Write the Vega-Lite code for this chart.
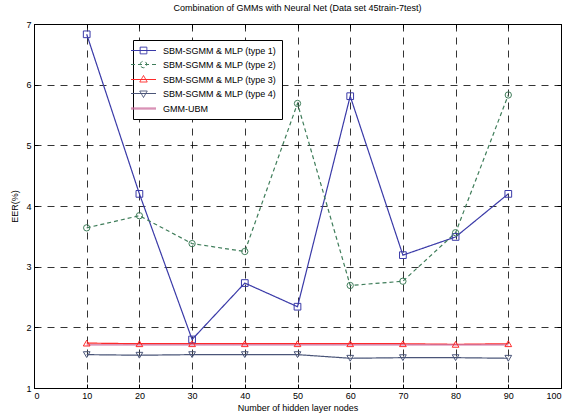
{
  "$schema": "https://vega.github.io/schema/vega-lite/v6.json",
  "width": 527,
  "height": 364,
  "autosize": {"type": "none"},
  "padding": {"left": 34, "top": 24, "right": 2, "bottom": 27},
  "background": "white",
  "title": {
    "text": "Combination of GMMs with Neural Net (Data set 45train-7test)",
    "font": "Liberation Sans",
    "fontSize": 9,
    "fontWeight": "normal",
    "color": "black",
    "anchor": "middle",
    "offset": 7
  },
  "config": {
    "view": {"stroke": "black", "strokeWidth": 1},
    "axis": {
      "labelFont": "Liberation Sans",
      "labelFontSize": 9,
      "labelColor": "black",
      "titleFont": "Liberation Sans",
      "titleFontSize": 9,
      "titleFontWeight": "normal",
      "titleColor": "black",
      "domainColor": "black",
      "tickColor": "black",
      "gridColor": "black",
      "gridDash": [7, 6],
      "gridOpacity": 1,
      "gridWidth": 0.8,
      "tickSize": -4,
      "labelPadding": 7
    },
    "legend": {
      "orient": "none",
      "legendX": 99,
      "legendY": 16,
      "strokeColor": "black",
      "fillColor": "white",
      "padding": 5,
      "labelFont": "Liberation Sans",
      "labelFontSize": 9,
      "labelColor": "black",
      "labelOffset": 14,
      "symbolSize": 100,
      "symbolStrokeWidth": 1,
      "symbolOpacity": 1,
      "rowPadding": 3,
      "title": null
    }
  },
  "data": {
    "values": [
      {"nodes": 10, "series": "SBM-SGMM & MLP (type 1)", "eer": 6.83},
      {"nodes": 20, "series": "SBM-SGMM & MLP (type 1)", "eer": 4.2},
      {"nodes": 30, "series": "SBM-SGMM & MLP (type 1)", "eer": 1.8},
      {"nodes": 40, "series": "SBM-SGMM & MLP (type 1)", "eer": 2.73},
      {"nodes": 50, "series": "SBM-SGMM & MLP (type 1)", "eer": 2.34},
      {"nodes": 60, "series": "SBM-SGMM & MLP (type 1)", "eer": 5.81},
      {"nodes": 70, "series": "SBM-SGMM & MLP (type 1)", "eer": 3.19},
      {"nodes": 80, "series": "SBM-SGMM & MLP (type 1)", "eer": 3.49},
      {"nodes": 90, "series": "SBM-SGMM & MLP (type 1)", "eer": 4.2},
      {"nodes": 10, "series": "SBM-SGMM & MLP (type 2)", "eer": 3.64},
      {"nodes": 20, "series": "SBM-SGMM & MLP (type 2)", "eer": 3.84},
      {"nodes": 30, "series": "SBM-SGMM & MLP (type 2)", "eer": 3.38},
      {"nodes": 40, "series": "SBM-SGMM & MLP (type 2)", "eer": 3.25},
      {"nodes": 50, "series": "SBM-SGMM & MLP (type 2)", "eer": 5.69},
      {"nodes": 60, "series": "SBM-SGMM & MLP (type 2)", "eer": 2.69},
      {"nodes": 70, "series": "SBM-SGMM & MLP (type 2)", "eer": 2.76},
      {"nodes": 80, "series": "SBM-SGMM & MLP (type 2)", "eer": 3.56},
      {"nodes": 90, "series": "SBM-SGMM & MLP (type 2)", "eer": 5.83},
      {"nodes": 10, "series": "SBM-SGMM & MLP (type 3)", "eer": 1.74},
      {"nodes": 20, "series": "SBM-SGMM & MLP (type 3)", "eer": 1.73},
      {"nodes": 30, "series": "SBM-SGMM & MLP (type 3)", "eer": 1.73},
      {"nodes": 40, "series": "SBM-SGMM & MLP (type 3)", "eer": 1.73},
      {"nodes": 50, "series": "SBM-SGMM & MLP (type 3)", "eer": 1.73},
      {"nodes": 60, "series": "SBM-SGMM & MLP (type 3)", "eer": 1.73},
      {"nodes": 70, "series": "SBM-SGMM & MLP (type 3)", "eer": 1.73},
      {"nodes": 80, "series": "SBM-SGMM & MLP (type 3)", "eer": 1.72},
      {"nodes": 90, "series": "SBM-SGMM & MLP (type 3)", "eer": 1.73},
      {"nodes": 10, "series": "SBM-SGMM & MLP (type 4)", "eer": 1.55},
      {"nodes": 20, "series": "SBM-SGMM & MLP (type 4)", "eer": 1.54},
      {"nodes": 30, "series": "SBM-SGMM & MLP (type 4)", "eer": 1.55},
      {"nodes": 40, "series": "SBM-SGMM & MLP (type 4)", "eer": 1.55},
      {"nodes": 50, "series": "SBM-SGMM & MLP (type 4)", "eer": 1.55},
      {"nodes": 60, "series": "SBM-SGMM & MLP (type 4)", "eer": 1.49},
      {"nodes": 70, "series": "SBM-SGMM & MLP (type 4)", "eer": 1.5},
      {"nodes": 80, "series": "SBM-SGMM & MLP (type 4)", "eer": 1.5},
      {"nodes": 90, "series": "SBM-SGMM & MLP (type 4)", "eer": 1.49},
      {"nodes": 10, "series": "GMM-UBM", "eer": 1.71},
      {"nodes": 20, "series": "GMM-UBM", "eer": 1.71},
      {"nodes": 30, "series": "GMM-UBM", "eer": 1.71},
      {"nodes": 40, "series": "GMM-UBM", "eer": 1.71},
      {"nodes": 50, "series": "GMM-UBM", "eer": 1.71},
      {"nodes": 60, "series": "GMM-UBM", "eer": 1.71},
      {"nodes": 70, "series": "GMM-UBM", "eer": 1.71},
      {"nodes": 80, "series": "GMM-UBM", "eer": 1.71},
      {"nodes": 90, "series": "GMM-UBM", "eer": 1.71}
    ]
  },
  "encoding": {
    "x": {"field": "nodes", "type": "quantitative", "scale": {"domain": [0, 100], "nice": false}, "axis": null},
    "y": {"field": "eer", "type": "quantitative", "scale": {"domain": [1, 7], "nice": false, "zero": false}, "axis": null},
    "color": {
      "field": "series",
      "type": "nominal",
      "scale": {
        "domain": ["SBM-SGMM & MLP (type 1)", "SBM-SGMM & MLP (type 2)", "SBM-SGMM & MLP (type 3)", "SBM-SGMM & MLP (type 4)", "GMM-UBM"],
        "range": ["#3a3aa8", "#3f7d5a", "#ff2a2a", "#4a5578", "#cc6f9e"]
      }
    }
  },
  "layer": [
    {
      "mark": {"type": "line", "strokeWidth": 1.2},
      "encoding": {
        "x": {
          "field": "nodes",
          "type": "quantitative",
          "scale": {"domain": [0, 100], "nice": false},
          "axis": {"orient": "bottom", "values": [0, 10, 20, 30, 40, 50, 60, 70, 80, 90, 100], "title": "Number of hidden layer nodes", "titlePadding": 3}
        },
        "y": {
          "field": "eer",
          "type": "quantitative",
          "scale": {"domain": [1, 7], "nice": false, "zero": false},
          "axis": {"orient": "left", "values": [1, 2, 3, 4, 5, 6, 7], "title": "EER(%)", "titlePadding": 6}
        },
        "strokeDash": {
          "field": "series",
          "type": "nominal",
          "scale": {
            "domain": ["SBM-SGMM & MLP (type 1)", "SBM-SGMM & MLP (type 2)", "SBM-SGMM & MLP (type 3)", "SBM-SGMM & MLP (type 4)", "GMM-UBM"],
            "range": [[1, 0], [4, 3], [1, 0], [1, 0], [1, 0]]
          }
        }
      }
    },
    {
      "transform": [{"filter": "datum.series === 'SBM-SGMM & MLP (type 1)'"}],
      "mark": {"type": "point", "shape": "square", "filled": false, "size": 45, "strokeWidth": 1, "opacity": 1}
    },
    {
      "transform": [{"filter": "datum.series === 'SBM-SGMM & MLP (type 2)'"}],
      "mark": {"type": "point", "shape": "circle", "filled": false, "size": 40, "strokeWidth": 1, "opacity": 1}
    },
    {
      "transform": [{"filter": "datum.series === 'SBM-SGMM & MLP (type 3)'"}],
      "mark": {"type": "point", "shape": "triangle-up", "filled": false, "size": 45, "strokeWidth": 1, "opacity": 1}
    },
    {
      "transform": [{"filter": "datum.series === 'SBM-SGMM & MLP (type 4)'"}],
      "mark": {"type": "point", "shape": "triangle-down", "filled": false, "size": 45, "strokeWidth": 1, "opacity": 1}
    },
    {
      "mark": {"type": "point", "filled": false, "size": 0, "strokeWidth": 1},
      "encoding": {
        "x": {"field": "nodes", "type": "quantitative", "scale": {"domain": [0, 100], "nice": false}, "axis": {"orient": "top", "labels": false, "title": null, "grid": false, "domain": false, "values": [0, 10, 20, 30, 40, 50, 60, 70, 80, 90, 100]}},
        "y": {"field": "eer", "type": "quantitative", "scale": {"domain": [1, 7], "nice": false, "zero": false}, "axis": {"orient": "right", "labels": false, "title": null, "grid": false, "domain": false, "values": [1, 2, 3, 4, 5, 6, 7]}},
        "strokeDash": {"field": "series", "type": "nominal"},
        "shape": {
          "field": "series",
          "type": "nominal",
          "legend": {
            "encode": {
              "symbols": {
                "update": {
                  "fill": [
                    {"test": "datum.value === 'SBM-SGMM & MLP (type 2)'", "value": "#4f8a66"},
                    {"value": "transparent"}
                  ]
                }
              }
            }
          },
          "scale": {
            "domain": ["SBM-SGMM & MLP (type 1)", "SBM-SGMM & MLP (type 2)", "SBM-SGMM & MLP (type 3)", "SBM-SGMM & MLP (type 4)", "GMM-UBM"],
            "range": [
              "M-2.5,0H2.5M-0.67,-0.67H0.67V0.67H-0.67Z",
              "M-2.5,0H2.5M-0.65,0C-0.65,-0.359,-0.359,-0.65,0,-0.65C0.359,-0.65,0.65,-0.359,0.65,0C0.65,0.359,0.359,0.65,0,0.65C-0.359,0.65,-0.65,0.359,-0.65,0Z",
              "M-2.5,0H2.5M0,-0.8L0.75,0.5H-0.75Z",
              "M-2.5,0H2.5M0,0.8L0.75,-0.5H-0.75Z",
              "M-2.5,-0.1H2.5M-2.5,0.1H2.5"
            ]
          }
        }
      }
    }
  ]
}
